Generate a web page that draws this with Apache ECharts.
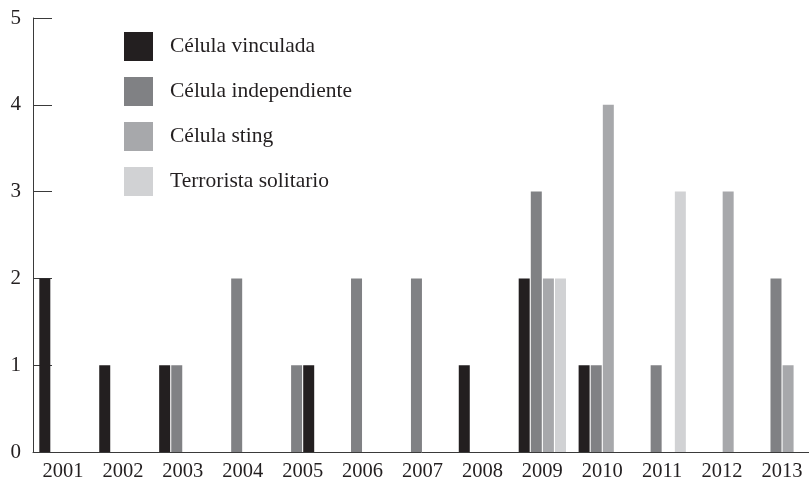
<!DOCTYPE html>
<html lang="es">
<head>
  <meta charset="UTF-8">
  <title>Células terroristas por año</title>
  <script src="https://cdn.jsdelivr.net/npm/echarts@6/dist/echarts.min.js"></script>
</head>
<style>
  * {
    padding: 0px;
    margin: 0px;
  }
  #main {
    width: 809px;
    height: 479px;
  }
</style>
<body>
<div id="main"></div>
</body>
</html>
<script>
  var years = ['2001', '2002', '2003', '2004', '2005', '2006', '2007', '2008', '2009', '2010', '2011', '2012', '2013'];
  var yTicks = [0, 1, 2, 3, 4, 5];
  // la barra negra de 2005 está dibujada en la tercera posición del grupo
  var vinculada = [2, 1, 1, null, null, null, null, 1, 2, 1, null, null, null];
  var vinculadaDesplazada = [null, null, null, null, 1, null, null, null, null, null, null, null, null];
  var independiente = [null, null, 1, 2, 1, 2, 2, null, 3, 1, 1, null, 2];
  var sting = [null, null, null, null, null, null, null, null, 2, 4, null, 3, 1];
  var solitario = [null, null, null, null, null, null, null, null, 2, null, 3, null, null];

  var colors = {
    vinculada: '#231f20',
    independiente: '#808184',
    sting: '#a7a8ab',
    solitario: '#d1d2d4'
  };
  var font = 'Liberation Serif';
  var axisColor = '#3a3a3a';

  var myChart = echarts.init(document.getElementById('main'));
  myChart.setOption({
    backgroundColor: '#fff',
    animation: false,
    textStyle: {fontFamily: font},
    legend: {
      orient: 'vertical',
      left: 124,
      top: 32,
      padding: 0,
      icon: 'rect',
      itemWidth: 29,
      itemHeight: 29,
      itemGap: 16,
      textStyle: {fontFamily: font, fontSize: 21.5, color: '#231f20', padding: [0, 0, 0, 12]},
      data: ['Célula vinculada', 'Célula independiente', 'Célula sting', 'Terrorista solitario']
    },
    grid: {
      left: 33,
      right: -3,
      top: 18,
      bottom: 27,
      outerBoundsMode: 'none'
    },
    xAxis: {
      type: 'category',
      data: years,
      boundaryGap: true,
      axisLine: {lineStyle: {color: axisColor, width: 1}},
      axisTick: {inside: true, length: 10, lineStyle: {color: axisColor}},
      axisLabel: {fontFamily: font, fontSize: 20.5, color: '#231f20', margin: 9},
      splitLine: {show: false}
    },
    yAxis: {
      type: 'value',
      min: yTicks[0],
      max: yTicks[yTicks.length - 1],
      interval: 1,
      axisLine: {show: true, lineStyle: {color: axisColor, width: 1}},
      axisTick: {show: true, inside: true, length: 19, lineStyle: {color: axisColor}},
      axisLabel: {fontFamily: font, fontSize: 21, color: '#231f20', margin: 12},
      splitLine: {show: false}
    },
    series: [
      {
        name: 'Célula vinculada',
        type: 'bar',
        data: vinculada,
        barWidth: 11,
        barGap: '10%',
        itemStyle: {color: colors.vinculada}
      },
      {
        name: 'Célula independiente',
        type: 'bar',
        data: independiente,
        barWidth: 11,
        barGap: '10%',
        itemStyle: {color: colors.independiente}
      },
      {
        name: 'Célula sting',
        type: 'bar',
        stack: 'tercera',
        data: sting,
        barWidth: 11,
        barGap: '10%',
        itemStyle: {color: colors.sting}
      },
      {
        name: 'Célula vinculada',
        type: 'bar',
        stack: 'tercera',
        data: vinculadaDesplazada,
        barWidth: 11,
        barGap: '10%',
        itemStyle: {color: colors.vinculada}
      },
      {
        name: 'Terrorista solitario',
        type: 'bar',
        data: solitario,
        barWidth: 11,
        barGap: '10%',
        itemStyle: {color: colors.solitario}
      }
    ]
  });
</script>
